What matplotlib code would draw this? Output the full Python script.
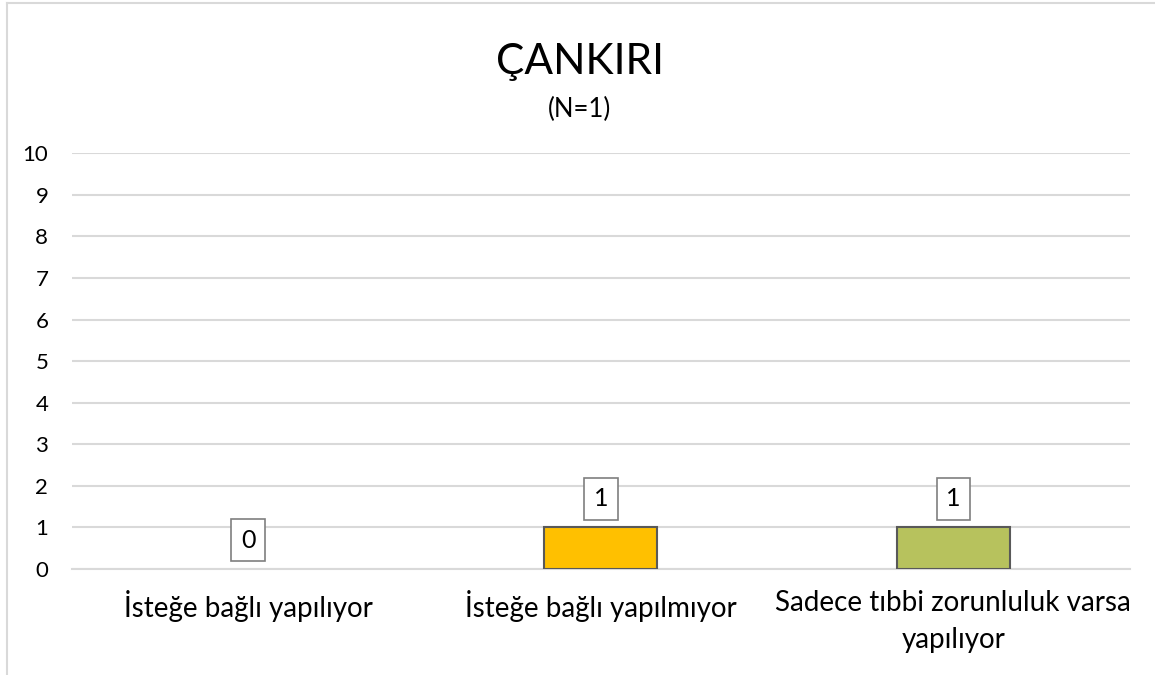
import matplotlib.pyplot as plt
from matplotlib.lines import Line2D

categories = ["İsteğe bağlı yapılıyor", "İsteğe bağlı yapılmıyor",
              "Sadece tıbbi zorunluluk varsa\nyapılıyor"]
values = [0, 1, 1]
colors = ["#4472c4", "#ffc000", "#b7c25d"]
title = "ÇANKIRI"
subtitle = "(N=1)"

plt.rcParams['font.family'] = ['Lato', 'DejaVu Sans']

fig = plt.figure(figsize=(11.55, 6.75), dpi=100)
ax = fig.add_axes([0.0623, 0.157, 0.9157, 0.616])

x = range(len(categories))
# zero-height bars get no outline
edge_widths = [1.5 if v else 0 for v in values]
ax.bar(x, values, width=0.32, color=colors, edgecolor="#595959",
       linewidth=edge_widths, zorder=3)

for xi, v in zip(x, values):
    ax.annotate(str(v), (xi, v), xytext=(0, 12.5), textcoords="offset points",
                ha="center", va="bottom", fontsize=18, color="black", zorder=4,
                bbox=dict(boxstyle="square,pad=0.38", fc="white", ec="#7f7f7f", lw=1.2))

ax.set_xlim(-0.5, len(categories) - 0.5)
ax.set_ylim(0, 10)
ax.set_yticks(range(0, 11))
ax.set_xticks(list(x))
ax.set_xticklabels(categories, fontsize=20, linespacing=1.55)
ax.tick_params(axis="y", length=0, pad=17, labelsize=16)
ax.tick_params(axis="x", length=0, pad=15)
ax.yaxis.grid(True, color="#d9d9d9", linewidth=1.5, zorder=0)
ax.set_axisbelow(True)
for side in ("top", "right", "left"):
    ax.spines[side].set_visible(False)
ax.spines["bottom"].set_color("#d9d9d9")
ax.spines["bottom"].set_linewidth(1.5)

fig.text(0.502, 0.89, title, ha="center", va="baseline", fontsize=30.5)
fig.text(0.502, 0.826, subtitle, ha="center", va="baseline", fontsize=18.5)

# chart area border (top and left edges)
fig.add_artist(Line2D([7 / 1155, 1], [1 - 3 / 675, 1 - 3 / 675], color="#d9d9d9", lw=1.5,
                      transform=fig.transFigure))
fig.add_artist(Line2D([7 / 1155, 7 / 1155], [0, 1 - 3 / 675], color="#d9d9d9", lw=1.5,
                      transform=fig.transFigure))

fig.savefig("out.png", dpi=100, facecolor="white")
